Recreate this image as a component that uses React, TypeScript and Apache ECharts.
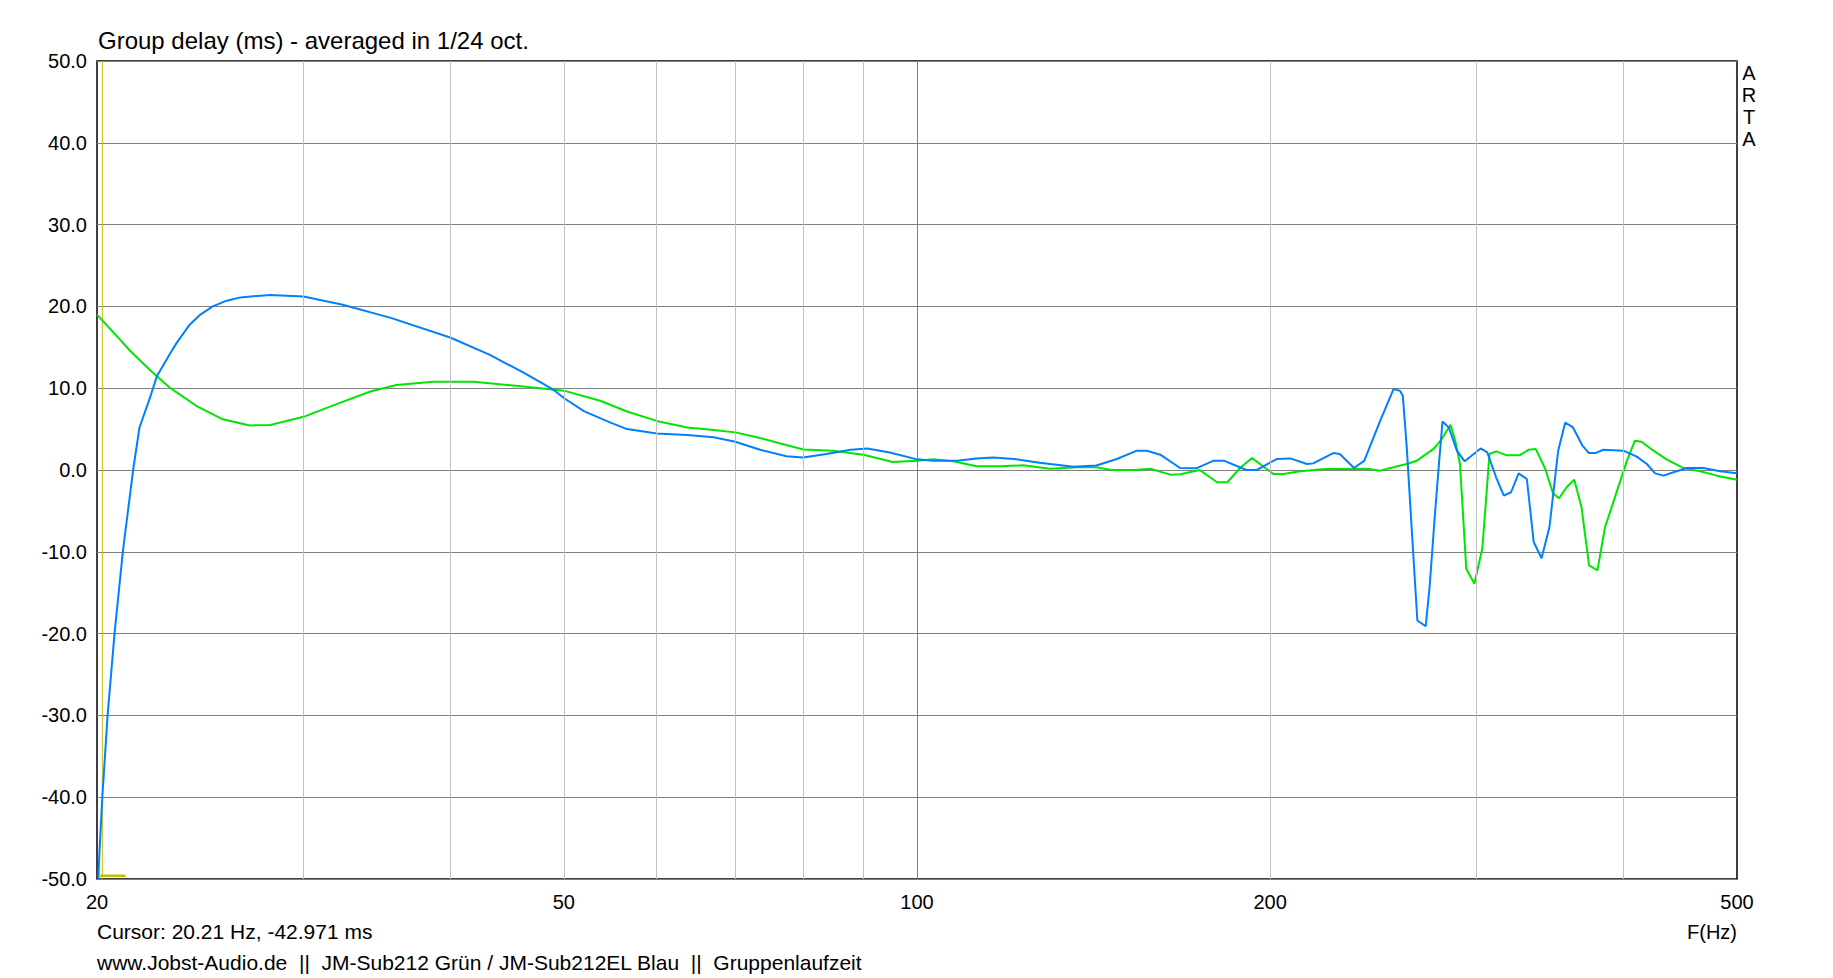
import React, { useEffect, useRef } from "react";
import * as echarts from "echarts";

const FONT = "'Liberation Sans', Arial, sans-serif";

const Y_MIN = -50;
const Y_MAX = 50;
const Y_STEP = 10;
const X_MIN = 20;
const X_MAX = 500;

const X_TICK_LABELS = [20, 50, 100, 200, 500];
const MINOR_GRID_FREQS = [30, 40, 50, 60, 70, 80, 90, 200, 300, 400];
const MAJOR_GRID_FREQS = [100];

const CURSOR_FREQ = 20.21;
const CURSOR_MARK = [
  [20.12, -49.6],
  [21.15, -49.6],
];

const GREEN: number[][] = [
  [20, 19.0], [21.0, 15.7], [21.3, 14.7], [22.2, 12.2], [23.1, 10.0], [24.3, 7.85],
  [25.6, 6.2], [27.0, 5.45], [28.1, 5.5], [30, 6.5], [32, 8.05], [34.2, 9.6],
  [36, 10.4], [38.7, 10.8], [41.9, 10.8], [46.2, 10.2], [50, 9.7], [53.7, 8.46],
  [56.6, 7.15], [60, 6.0], [63.7, 5.2], [67.1, 4.9], [70, 4.6], [73.5, 3.9],
  [76.5, 3.25], [80, 2.5], [84.8, 2.36], [90, 1.87], [95.4, 0.98], [100, 1.14],
  [103.2, 1.3], [107.4, 1.06], [112.4, 0.45], [117.6, 0.45], [123.2, 0.57], [129.8, 0.16],
  [136.9, 0.33], [142.2, 0.33], [146.5, 0], [152.9, 0], [158.1, 0.16], [164.4, -0.57],
  [167.6, -0.53], [174.2, 0], [180.2, -1.5], [183.9, -1.5], [188.5, 0.24], [193, 1.46],
  [201.3, -0.49], [205.3, -0.49], [212.2, -0.16], [222.8, 0.12], [242, 0.16], [248.2, -0.08],
  [254.8, 0.33], [261.4, 0.73], [266.7, 1.14], [275.5, 2.56], [279.7, 3.66], [285, 5.53],
  [287.6, 3.58], [290.3, 0.73], [293.9, -12.07], [298.6, -13.9], [303.3, -9.6], [306.1, -2.1],
  [307.6, 1.95], [311.6, 2.28], [318.3, 1.79], [326.3, 1.79], [332.2, 2.48], [336.9, 2.56],
  [343.2, 0.12], [348.4, -2.85], [352.6, -3.46], [357.9, -2.11], [363.3, -1.18], [368.5, -4.55],
  [374, -11.67], [380.2, -12.28], [385.9, -7.0], [402.9, 1.14], [409.2, 3.58], [414.6, 3.46],
  [424.4, 2.36], [435.7, 1.26], [450.2, 0.24], [465.1, -0.16], [480.6, -0.69], [500, -1.18],
];

const BLUE: number[][] = [
  [20.05, -50], [20.1, -46.5], [20.21, -40], [20.42, -30], [20.7, -20], [21.04, -10],
  [21.47, 0], [21.74, 5.2], [22.2, 8.9], [22.5, 11.5], [23.1, 14.3], [23.4, 15.6],
  [24.0, 17.8], [24.5, 19.0], [25.1, 20.0], [25.8, 20.7], [26.5, 21.1], [28.1, 21.4],
  [30, 21.2], [32.4, 20.2], [35.6, 18.6],
  [40, 16.2], [43.2, 14.1], [46.2, 11.9], [48.9, 9.9], [50, 8.8], [52, 7.2],
  [54.8, 5.8], [56.6, 5.0], [60, 4.47], [63.7, 4.27], [67.1, 4.0], [70, 3.46],
  [73.5, 2.48], [77.4, 1.67], [80, 1.54], [83.7, 1.95], [87.8, 2.48], [90.7, 2.64],
  [94.8, 2.15], [100, 1.3], [103.2, 1.14], [108.2, 1.14], [112.4, 1.42], [116.1, 1.54],
  [121, 1.34], [127.2, 0.89], [135.9, 0.41], [142.2, 0.55], [148, 1.34], [154, 2.36],
  [157, 2.36], [161.2, 1.87], [167.6, 0.24], [173, 0.2], [179, 1.14], [182.6, 1.14],
  [190.9, 0], [194.8, 0], [202.6, 1.34], [208, 1.42], [215, 0.73], [217.6, 0.81],
  [226.4, 2.07], [229.3, 1.95], [235.8, 0.24], [240.6, 1.14], [248.2, 6.0], [254.8, 9.9],
  [258.1, 9.67], [259.5, 9.07], [261.5, 2.76], [264.1, -7.4], [267, -18.4], [271.4, -19.1],
  [273.5, -14.3], [276.1, -6.2], [278.7, 1.14], [280.5, 5.93], [284, 5.2], [288.5, 2.36],
  [293, 1.06], [302.3, 2.64], [306.3, 2.15], [311.6, -0.89], [316.4, -3.13], [320.9, -2.72],
  [325.7, -0.41], [331, -1.1], [335.5, -8.8], [340.7, -10.8], [346, -7.0], [352, 2.36],
  [356.9, 5.8], [362.4, 5.2], [369.2, 2.97], [373.9, 2.07], [378.6, 2.07], [384.6, 2.48],
  [400, 2.36], [410.7, 1.63], [418.9, 0.73], [425.8, -0.41], [432.9, -0.69], [441.4, -0.28],
  [453.2, 0.24], [468.2, 0.24], [483.7, -0.16], [500, -0.41],
];

const TITLE = "Group delay (ms) - averaged in 1/24 oct.";
const CURSOR_TEXT = "Cursor: 20.21 Hz, -42.971 ms";
const FOOTER_TEXT =
  "www.Jobst-Audio.de \u00a0|| \u00a0JM-Sub212 Grün / JM-Sub212EL Blau \u00a0|| \u00a0Gruppenlaufzeit";
const X_UNIT = "F(Hz)";
const SIDE_LETTERS = ["A", "R", "T", "A"];

export default function App() {
  const ref = useRef<HTMLDivElement>(null);

  useEffect(() => {
    if (!ref.current) return;
    const chart = echarts.init(ref.current, undefined, { renderer: "svg" });

    const gridLine = (f: number, color: string) => ({
      xAxis: f,
      lineStyle: { color, width: 1, type: "solid" },
    });

    const option: any = {
      animation: false,
      backgroundColor: "#ffffff",
      grid: {
        left: 97,
        top: 61,
        width: 1640,
        height: 818,
        show: true,
        borderColor: "#000000",
        borderWidth: 1.5,
        backgroundColor: "transparent",
      },
      xAxis: {
        type: "log",
        logBase: 10,
        min: X_MIN,
        max: X_MAX,
        axisLine: { show: false },
        axisTick: { show: false },
        axisLabel: { show: false },
        splitLine: { show: false },
        minorSplitLine: { show: false },
      },
      yAxis: {
        type: "value",
        min: Y_MIN,
        max: Y_MAX,
        interval: Y_STEP,
        axisLine: { show: false },
        axisTick: { show: false },
        axisLabel: {
          formatter: (v: number) => v.toFixed(1),
          fontSize: 20,
          color: "#000000",
          fontFamily: FONT,
          margin: 10,
        },
        splitLine: { lineStyle: { color: "#808080", width: 1 } },
      },
      series: [
        {
          name: "vgrid",
          type: "line",
          data: [],
          silent: true,
          z: 1,
          markLine: {
            silent: true,
            animation: false,
            symbol: ["none", "none"],
            label: { show: false },
            emphasis: { disabled: true },
            data: [
              ...MINOR_GRID_FREQS.map((f) => gridLine(f, "#c0c0c0")),
              ...MAJOR_GRID_FREQS.map((f) => gridLine(f, "#808080")),
            ],
          },
        },
        {
          name: "cursor",
          type: "line",
          data: [
            [CURSOR_FREQ, Y_MAX],
            [CURSOR_FREQ, Y_MIN],
          ],
          showSymbol: false,
          silent: true,
          z: 2,
          lineStyle: { color: "#c0c000", width: 1 },
        },
        {
          name: "cursorMark",
          type: "line",
          data: CURSOR_MARK,
          showSymbol: false,
          silent: true,
          z: 2,
          lineStyle: { color: "#c0c000", width: 2.5 },
        },
        {
          name: "JM-Sub212",
          type: "line",
          data: GREEN,
          showSymbol: false,
          silent: true,
          z: 3,
          lineStyle: { color: "#00e600", width: 2 },
        },
        {
          name: "JM-Sub212EL",
          type: "line",
          data: BLUE,
          showSymbol: false,
          silent: true,
          z: 4,
          lineStyle: { color: "#0080ff", width: 2 },
        },
      ],
    };

    chart.setOption(option);

    const textStyle = (extra: any) => ({
      fill: "#000000",
      fontFamily: FONT,
      fontSize: 20,
      ...extra,
    });

    const graphics: any[] = [
      {
        type: "text",
        left: 98,
        top: 28,
        style: textStyle({ text: TITLE, fontSize: 24 }),
      },
      {
        type: "text",
        x: 97,
        y: 931,
        style: textStyle({ text: CURSOR_TEXT, fontSize: 21, verticalAlign: "middle" }),
      },
      {
        type: "text",
        x: 97,
        y: 962,
        style: textStyle({ text: FOOTER_TEXT, fontSize: 21, verticalAlign: "middle" }),
      },
      {
        type: "text",
        x: 1737,
        y: 932,
        style: textStyle({ text: X_UNIT, align: "right", verticalAlign: "middle" }),
      },
      ...SIDE_LETTERS.map((ch, i) => ({
        type: "text",
        x: 1749,
        y: 73 + i * 22,
        style: textStyle({ text: ch, align: "center", verticalAlign: "middle" }),
      })),
      ...X_TICK_LABELS.map((f) => {
        const px = chart.convertToPixel({ xAxisIndex: 0 }, f) as number;
        return {
          type: "text",
          x: px,
          y: 902,
          style: textStyle({ text: String(f), align: "center", verticalAlign: "middle" }),
        };
      }),
    ];

    chart.setOption({ graphic: graphics });

    return () => {
      chart.dispose();
    };
  }, []);

  return (
    <div
      ref={ref}
      style={{
        position: "absolute",
        left: 0,
        top: 0,
        width: 1833,
        height: 978,
        background: "#ffffff",
      }}
    />
  );
}
